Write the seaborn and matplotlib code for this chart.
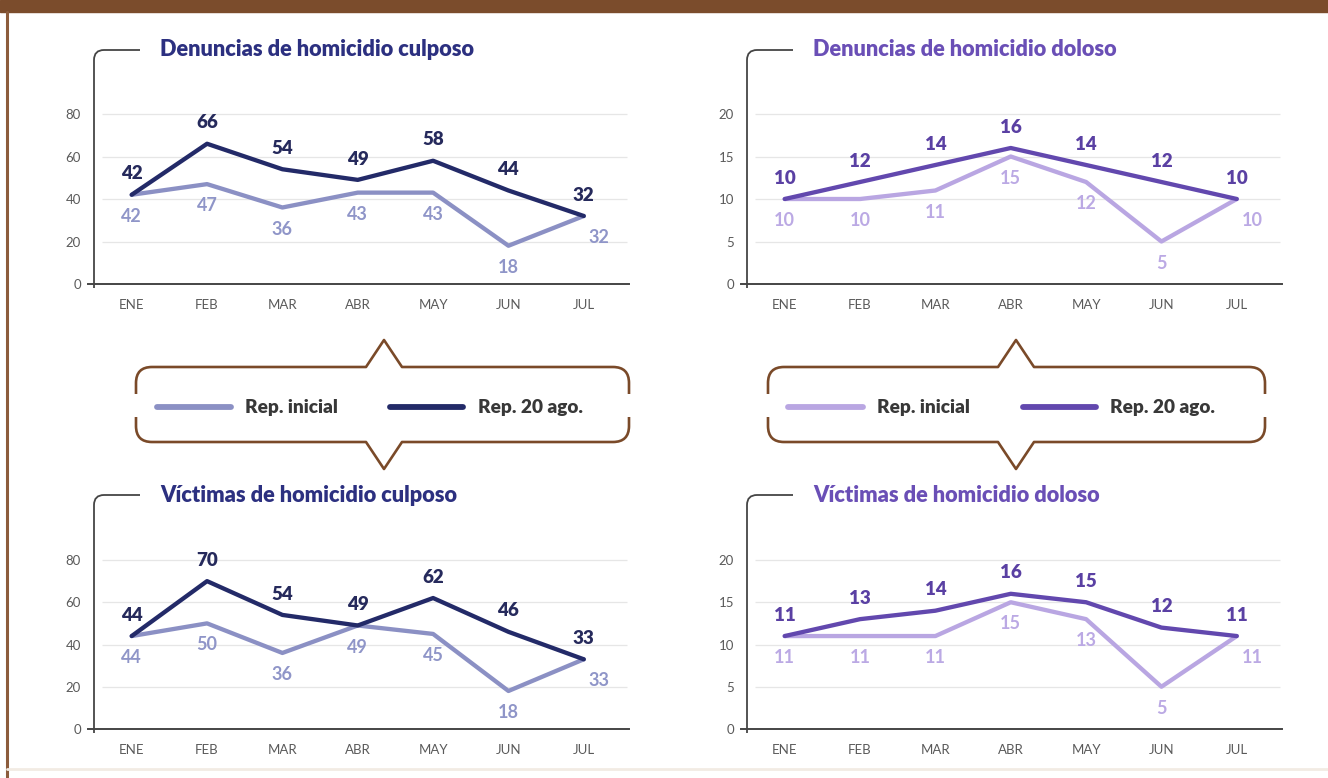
import numpy as np
import pandas as pd
import matplotlib
matplotlib.use("Agg")
import matplotlib.pyplot as plt
import seaborn as sns
from matplotlib.path import Path
from matplotlib.patches import PathPatch, Rectangle
from matplotlib.lines import Line2D

W, H = 1328, 778

meses = ["ENE", "FEB", "MAR", "ABR", "MAY", "JUN", "JUL"]

den_culposo_inicial = [42, 47, 36, 43, 43, 18, 32]
den_culposo_20ago = [42, 66, 54, 49, 58, 44, 32]
den_doloso_inicial = [10, 10, 11, 15, 12, 5, 10]
den_doloso_20ago = [10, 12, 14, 16, 14, 12, 10]
vic_culposo_inicial = [44, 50, 36, 49, 45, 18, 33]
vic_culposo_20ago = [44, 70, 54, 49, 62, 46, 33]
vic_doloso_inicial = [11, 11, 11, 15, 13, 5, 11]
vic_doloso_20ago = [11, 13, 14, 16, 15, 12, 11]

ticks_culposo = [0, 20, 40, 60, 80]
ticks_doloso = [0, 5, 10, 15, 20]

series = ["Rep. inicial", "Rep. 20 ago."]

culposo = {"light": "#8b90c4", "dark": "#232a68", "lbl_light": "#8f95c8",
           "lbl_dark": "#262a5c", "title": "#2c3080"}
doloso = {"light": "#b9a6e2", "dark": "#6248ae", "lbl_light": "#bba9e4",
          "lbl_dark": "#5a40a3", "title": "#6a4fb6"}

BROWN = "#7a4a29"
AXC = "#454545"
TXT = "#5a5a5a"

sns.set_style("white")
plt.rcParams["font.family"] = ["Lato", "DejaVu Sans"]

fig = plt.figure(figsize=(W / 100, H / 100), dpi=100)
fig.patch.set_facecolor("white")


def fx(x):
    return x / W


def fy(y):
    return 1 - y / H


def panel(left, top, bottom, title, inicial, final, ticks, px_per_tick, pal):
    ax = fig.add_axes([fx(left), fy(bottom), 541 / W, (bottom - top) / H])
    ax.patch.set_alpha(0)
    pos = np.arange(len(meses))
    df = pd.DataFrame({
        "x": np.concatenate([pos, pos]),
        "valor": inicial + final,
        "serie": [series[0]] * len(meses) + [series[1]] * len(meses),
    })
    sns.lineplot(data=df, x="x", y="valor", hue="serie", hue_order=series,
                 palette={series[0]: pal["light"], series[1]: pal["dark"]},
                 linewidth=3.1, sort=False, legend=False, ax=ax, zorder=3)
    step = ticks[1] - ticks[0]
    ymax = (bottom - top) / px_per_tick * step
    ax.set_xlim(-0.58, 6.6)
    ax.set_ylim(0, ymax)
    ax.hlines(ticks[1:], -0.4, 6.58, color="#e6e6e6", lw=0.9, zorder=0)

    for i, (a, b) in enumerate(zip(inicial, final)):
        ax.annotate(str(b), (i, b), xytext=(0, 15), textcoords="offset points",
                    ha="center", va="center", fontsize=13.5, fontweight="heavy",
                    color=pal["lbl_dark"], zorder=5)
        dx = 11 if i == len(meses) - 1 else 0
        ax.annotate(str(a), (i, a), xytext=(dx, -15.5), textcoords="offset points",
                    ha="center", va="center", fontsize=13, fontweight="bold",
                    color=pal["lbl_light"], zorder=5)

    ax.set_xticks(pos, meses)
    ax.set_xticks(np.arange(-0.5, 7, 1), minor=True)
    ax.tick_params(axis="x", which="major", length=0, pad=11, labelsize=9.5,
                   labelcolor=TXT)
    ax.tick_params(axis="x", which="minor", length=9, width=1.2,
                   direction="inout", color=AXC)
    ax.set_yticks(ticks)
    ax.tick_params(axis="y", length=3.5, width=1.2, direction="in", color=AXC,
                   pad=5, labelsize=9.5, labelcolor=TXT)
    for s in ["top", "right", "left"]:
        ax.spines[s].set_visible(False)
    ax.spines["bottom"].set_color(AXC)
    ax.spines["bottom"].set_linewidth(1.4)
    ax.set_xlabel("")
    ax.set_ylabel("")

    # vertical axis with rounded corner running toward the title
    xa = left + 6
    verts = [(xa, bottom + 4), (xa, top + 10), (xa, top), (xa + 10, top),
             (xa + 46, top)]
    codes = [Path.MOVETO, Path.LINETO, Path.CURVE3, Path.CURVE3, Path.LINETO]
    fig.patches.append(PathPatch(
        Path([(fx(x), fy(y)) for x, y in verts], codes),
        transform=fig.transFigure, fill=False, lw=1.3, edgecolor=AXC))
    fig.text(fx(xa + 66), fy(top), title, ha="left", va="center",
             fontsize=15.7, fontweight="heavy", color=pal["title"])
    return ax


panel(88, 50, 284, "Denuncias de homicidio culposo",
      den_culposo_inicial, den_culposo_20ago, ticks_culposo, 42.5, culposo)
panel(741, 50, 284, "Denuncias de homicidio doloso",
      den_doloso_inicial, den_doloso_20ago, ticks_doloso, 42.5, doloso)
panel(88, 495, 729, "Víctimas de homicidio culposo",
      vic_culposo_inicial, vic_culposo_20ago, ticks_culposo, 42.25, culposo)
panel(741, 495, 729, "Víctimas de homicidio doloso",
      vic_doloso_inicial, vic_doloso_20ago, ticks_doloso, 42.25, doloso)


def brace(x0, x1, xs, yt=367, yb=442):
    r = 16
    top = [(x0, 394), (x0, yt + r), (x0, yt), (x0 + r, yt), (xs - 18, yt),
           (xs, 340), (xs + 18, yt), (x1 - r, yt), (x1, yt), (x1, yt + r),
           (x1, 394)]
    codes = [Path.MOVETO, Path.LINETO, Path.CURVE3, Path.CURVE3, Path.LINETO,
             Path.LINETO, Path.LINETO, Path.LINETO, Path.CURVE3, Path.CURVE3,
             Path.LINETO]
    bot = [(x0, 417), (x0, yb - r), (x0, yb), (x0 + r, yb), (xs - 18, yb),
           (xs, 469), (xs + 18, yb), (x1 - r, yb), (x1, yb), (x1, yb - r),
           (x1, 417)]
    for verts in (top, bot):
        fig.patches.append(PathPatch(
            Path([(fx(x), fy(y)) for x, y in verts], codes),
            transform=fig.transFigure, fill=False, lw=1.9, edgecolor=BROWN,
            joinstyle="round"))


def legend(xl, xd, xt1, xt2, pal, y=407):
    for (a, b), c in zip([xl, xd], [pal["light"], pal["dark"]]):
        fig.lines.append(Line2D([fx(a), fx(b)], [fy(y), fy(y)],
                                transform=fig.transFigure, color=c, lw=4.2,
                                solid_capstyle="round"))
    for x, t in zip([xt1, xt2], series):
        fig.text(fx(x), fy(y), t, ha="left", va="center", fontsize=13.7,
                 fontweight="heavy", color="#383838")


brace(136, 629, 384)
legend((157, 231), (390, 463), 245, 478, culposo)
brace(768, 1265, 1016)
legend((788, 863), (1023, 1096), 877, 1110, doloso)

# page frame
fig.patches.append(Rectangle((0, fy(12)), 1, 12 / H, transform=fig.transFigure,
                             color="#7b4c2c"))
fig.lines.append(Line2D([fx(7), fx(7)], [0, fy(12)], transform=fig.transFigure,
                        color="#8c5c3c", lw=2.2))
fig.lines.append(Line2D([fx(7), 1], [fy(769), fy(769)],
                        transform=fig.transFigure, color="#f2ebe3", lw=2))

fig.savefig("out.png", dpi=100)
